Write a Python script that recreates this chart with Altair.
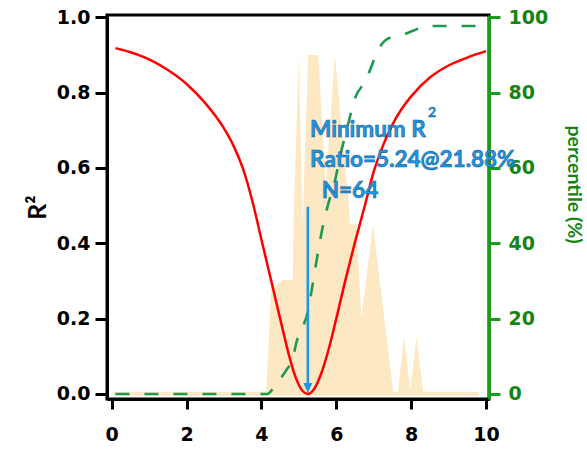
import altair as alt
import pandas as pd

# ---- data ----
# distribution of ratios (drawn on the R^2 scale, light orange area)
hist_x = [0.05, 4.13, 4.27, 4.36, 4.58, 4.84, 4.86, 5.00, 5.10, 5.25, 5.52, 5.72, 5.96,
          6.34, 6.37, 6.54, 6.67, 6.98, 7.52, 7.65, 7.81, 7.98, 8.14, 8.32, 9.80]
hist_h = [0.006, 0.006, 0.30, 0.285, 0.303, 0.303, 0.47, 0.90, 0.45, 0.90, 0.90, 0.55, 0.90,
          0.50, 0.45, 0.45, 0.20, 0.45, 0.006, 0.006, 0.152, 0.01, 0.152, 0.006, 0.006]

# R^2 vs ratio (red)
r2_x = [0.1, 0.5, 1.0, 1.5, 2.0, 2.5, 3.0, 3.25, 3.5, 3.75, 4.0, 4.25, 4.5, 4.75, 4.9,
        5.0, 5.1, 5.24, 5.4, 5.6, 5.8, 6.0, 6.25, 6.5, 6.75, 7.0, 7.25, 7.5, 7.75, 8.0,
        8.5, 9.0, 9.5, 10.0]
r2_y = [0.918, 0.907, 0.888, 0.860, 0.823, 0.772, 0.705, 0.660, 0.600, 0.515, 0.41,
        0.305, 0.20, 0.098, 0.048, 0.024, 0.008, 0.0, 0.012, 0.055, 0.12, 0.20, 0.305,
        0.403, 0.495, 0.59, 0.66, 0.715, 0.757, 0.79, 0.84, 0.872, 0.893, 0.91]

# cumulative percentile (green dashed, right axis)
pc_x = [0.1, 4.15, 4.4, 4.67, 4.84, 4.94, 5.07, 5.24, 5.35, 5.5, 5.65, 5.8, 5.95, 6.1,
        6.3, 6.5, 6.8, 6.94, 7.1, 7.3, 7.5, 7.75, 8.05, 8.4, 9.0, 10.0]
pc_y = [0, 0, 2.8, 6.4, 9.5, 13.9, 17.0, 21.88, 28.0, 37.0, 45.0, 51.0, 56.0, 63.0,
        71.0, 78.5, 83.5, 87.0, 91.0, 93.8, 94.8, 95.3, 96.4, 97.7, 97.7, 97.7]

min_ratio = 5.24
min_pct = 21.88
n_count = 64
arrow_top = 0.497
arrow_tip = 0.016

x_ticks = [0, 2, 4, 6, 8, 10]
y_ticks = [0.0, 0.2, 0.4, 0.6, 0.8, 1.0]
p_ticks = [0, 20, 40, 60, 80, 100]

X_DOM = [-0.126, 10.08]
Y_DOM = [-0.0133, 1.006]
P_DOM = [-1.33, 100.6]

TICK_FONT = "DejaVu Sans"
TEXT_FONT = "Lato"
BLUE = "#1e97e4"
GREEN_AX = "#1b9a1b"
GREEN_TX = "#158415"

hist_df = pd.DataFrame({"x": hist_x, "h": hist_h})
r2_df = pd.DataFrame({"x": r2_x, "y": r2_y})
pc_df = pd.DataFrame({"x": pc_x, "p": pc_y})
arrow_df = pd.DataFrame({"x": [min_ratio], "y": [arrow_top], "y2": [arrow_tip + 0.01]})
head_df = pd.DataFrame({"x": [min_ratio], "y": [arrow_tip]})

xs = alt.Scale(domain=X_DOM, nice=False, zero=False)
ys = alt.Scale(domain=Y_DOM, nice=False, zero=False)
ps = alt.Scale(domain=P_DOM, nice=False, zero=False)

x_axis = alt.Axis(values=x_ticks, format="d", title=None, domainColor="black",
                  domainWidth=3, tickColor="black", tickWidth=3, tickSize=10,
                  labelFont=TICK_FONT, labelFontSize=19, labelFontWeight="bold",
                  labelColor="black", labelPadding=16, grid=False, labelFlush=False)
y_axis = alt.Axis(values=y_ticks, format=".1f", title="R²", orient="left",
                  domainColor="black", domainWidth=3, tickColor="black", tickWidth=3,
                  tickSize=12, labelFont=TICK_FONT, labelFontSize=19,
                  labelFontWeight="bold", labelColor="black", labelPadding=5,
                  titleFont=TEXT_FONT, titleFontSize=25, titleFontWeight="bold",
                  titleColor="black", titleX=-70, titleY=192, titleAngle=-90,
                  titleAlign="center", titleBaseline="middle", grid=False,
                  labelFlush=False)
p_axis = alt.Axis(values=p_ticks, format="d", title="percentile (%)", orient="right",
                  domainColor=GREEN_AX, domainWidth=3, tickColor=GREEN_AX, tickWidth=3,
                  tickSize=11, labelFont=TICK_FONT, labelFontSize=19,
                  labelFontWeight="bold", labelColor=GREEN_TX, labelPadding=8,
                  titleFont=TEXT_FONT, titleFontSize=19.5, titleFontWeight="bold",
                  titleColor=GREEN_TX, titleX=84, titleY=169, titleAngle=90,
                  titleAlign="center", titleBaseline="middle", grid=False,
                  labelFlush=False)

X = alt.X("x:Q", scale=xs, axis=x_axis)

hist = alt.Chart(hist_df).mark_area(color="#fde8c4", interpolate="linear").encode(
    x=X,
    y=alt.Y("h:Q", scale=ys, axis=y_axis),
    y2=alt.datum(-0.005),
)

pct = alt.Chart(pc_df).mark_line(color="#1d9a4f", strokeWidth=2.6,
                                 strokeDash=[14, 15], interpolate="monotone").encode(
    x=X,
    y=alt.Y("p:Q", scale=ps, axis=p_axis),
)

r2 = alt.Chart(r2_df).mark_line(color="#ff0000", strokeWidth=2.5,
                                interpolate="monotone").encode(
    x=X,
    y=alt.Y("y:Q", scale=ys, axis=None),
)

arrow = alt.Chart(arrow_df).mark_rule(color=BLUE, strokeWidth=2.6).encode(
    x=X,
    y=alt.Y("y:Q", scale=ys, axis=None),
    y2="y2:Q",
)

head = alt.Chart(head_df).mark_point(shape="M -0.9,-1 L 0.9,-1 L 0,1 Z", filled=True,
                                     color=BLUE, size=100, opacity=1).encode(
    x=X,
    y=alt.Y("y:Q", scale=ys, axis=None),
)

labels_df = pd.DataFrame({
    "x": [min_ratio + 0.06, min_ratio + 0.06, min_ratio + 0.37],
    "y": [0.682, 0.603, 0.520],
    "t": ["Minimum R", f"Ratio={min_ratio}@{min_pct}%", f"N={n_count}"],
})
sup_df = pd.DataFrame({"x": [8.45], "y": [0.735], "t": ["2"]})

txt = alt.Chart(labels_df).mark_text(font=TEXT_FONT, fontSize=22.5, fontWeight="bold",
                                     color=BLUE, align="left", baseline="alphabetic",
                                     stroke="#17609a", strokeWidth=0.6).encode(
    x=X,
    y=alt.Y("y:Q", scale=ys, axis=None),
    text="t:N",
)
sup = alt.Chart(sup_df).mark_text(font=TEXT_FONT, fontSize=14, fontWeight="bold",
                                  color=BLUE, align="left", baseline="alphabetic",
                                  stroke="#17609a", strokeWidth=0.4).encode(
    x=X,
    y=alt.Y("y:Q", scale=ys, axis=None),
    text="t:N",
)

chart = alt.layer(hist, pct, r2, arrow, head, txt, sup).resolve_scale(
    y="independent"
).properties(
    width=382, height=384,
    padding={"left": 107, "top": 15, "right": 98, "bottom": 51},
    autosize=alt.AutoSizeParams(type="none"),
    background="white",
).configure_view(stroke="black", strokeWidth=3)

chart.save("out.html", embed_options={"renderer": "svg", "actions": False})
